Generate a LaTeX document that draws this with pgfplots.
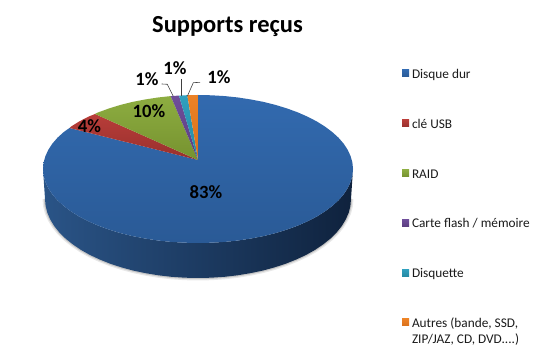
\documentclass[border=0pt]{standalone}
\usepackage{pgfplots}
\pgfplotsset{compat=1.18}
\usepackage{fontspec}
\setmainfont{Carlito}
\definecolor{txt}{HTML}{1A1A1A}
\definecolor{HTMLa}{HTML}{2A5487}
\definecolor{HTMLb}{HTML}{19355E}
\definecolor{HTMLc}{HTML}{0F223D}
\definecolor{HTMLd}{HTML}{326AAF}
\definecolor{HTMLe}{HTML}{2A5A96}
\definecolor{HTMLf}{HTML}{B83D39}
\definecolor{HTMLg}{HTML}{98302D}
\definecolor{HTMLh}{HTML}{8DAD41}
\definecolor{HTMLi}{HTML}{76922F}
\definecolor{HTMLj}{HTML}{6F4E9A}
\definecolor{HTMLk}{HTML}{5B3E80}
\definecolor{HTMLl}{HTML}{30A0BE}
\definecolor{HTMLm}{HTML}{258AA4}
\definecolor{HTMLn}{HTML}{EC8226}
\definecolor{HTMLo}{HTML}{D9701C}
\begin{document}
\begin{tikzpicture}
\begin{axis}[
  scale only axis, width=545pt, height=355pt,
  xmin=0, xmax=545, ymin=0, ymax=355,
  axis lines=none, clip=false,
  legend cell align=left,
  legend image code/.code={\path[#1,draw=none] (0pt,-1.5pt) rectangle (7pt,5.5pt);\path (0pt,0pt) -- (10pt,0pt);},
  legend style={at={(axis cs:402,285.5)},anchor=north west,draw=none,fill=none,inner sep=0pt,outer sep=0pt,
    row sep=37.8pt,font=\fontsize{13.3}{16.3}\selectfont,text=txt,
    nodes={inner sep=0pt,text height=9pt,text depth=3pt}},
]
\path (axis cs:0,0) rectangle (axis cs:545,355);
% soft shadow below the pie
\addplot[forget plot,line width=5pt,color=black!9,line join=round] coordinates {(351,156)(350.4,149.1)(348.7,142.3)(345.8,135.6)(341.8,129)(336.7,122.6)(330.5,116.5)(323.3,110.7)(315.2,105.2)(306.2,100.1)(296.3,95.5)(285.8,91.3)(274.5,87.6)(262.7,84.4)(250.3,81.8)(237.6,79.7)(224.6,78.2)(211.3,77.3)(198,77)(184.7,77.3)(171.4,78.2)(158.4,79.7)(145.7,81.8)(133.3,84.4)(121.5,87.6)(110.2,91.3)(99.7,95.5)(89.8,100.1)(80.8,105.2)(72.7,110.7)(65.5,116.5)(59.3,122.6)(54.2,129)(50.2,135.6)(47.3,142.3)(45.6,149.1)(45,156)};
\addplot[forget plot,line width=2.4pt,color=black!22,line join=round] coordinates {(351,156)(350.4,149.1)(348.7,142.3)(345.8,135.6)(341.8,129)(336.7,122.6)(330.5,116.5)(323.3,110.7)(315.2,105.2)(306.2,100.1)(296.3,95.5)(285.8,91.3)(274.5,87.6)(262.7,84.4)(250.3,81.8)(237.6,79.7)(224.6,78.2)(211.3,77.3)(198,77)(184.7,77.3)(171.4,78.2)(158.4,79.7)(145.7,81.8)(133.3,84.4)(121.5,87.6)(110.2,91.3)(99.7,95.5)(89.8,100.1)(80.8,105.2)(72.7,110.7)(65.5,116.5)(59.3,122.6)(54.2,129)(50.2,135.6)(47.3,142.3)(45.6,149.1)(45,156)};
% side wall
\addplot[forget plot,draw=none,left color=HTMLa,middle color=HTMLb,right color=HTMLc] coordinates {(353,186)(352.4,179.55)(350.6,173.15)(347.7,166.85)(343.7,160.7)(338.5,154.7)(332.2,149)(325,143.6)(316.7,138.4)(307.6,133.7)(297.6,129.3)(286.9,125.4)(275.5,121.9)(263.5,118.9)(251,116.5)(238.1,114.5)(224.9,113.1)(211.5,112.3)(198,112)(184.5,112.3)(171.1,113.1)(157.9,114.5)(145,116.5)(132.5,118.9)(120.5,121.9)(109.1,125.4)(98.4,129.3)(88.4,133.7)(79.3,138.4)(71,143.6)(63.8,149)(57.5,154.7)(52.3,160.7)(48.3,166.85)(45.4,173.15)(43.6,179.55)(43,186)
(45,156)(45.6,149.1)(47.3,142.3)(50.2,135.6)(54.2,129)(59.3,122.6)(65.5,116.5)(72.7,110.7)(80.8,105.2)(89.8,100.1)(99.7,95.5)(110.2,91.3)(121.5,87.6)(133.3,84.4)(145.7,81.8)(158.4,79.7)(171.4,78.2)(184.7,77.3)(198,77)(211.3,77.3)(224.6,78.2)(237.6,79.7)(250.3,81.8)(262.7,84.4)(274.5,87.6)(285.8,91.3)(296.3,95.5)(306.2,100.1)(315.2,105.2)(323.3,110.7)(330.5,116.5)(336.7,122.6)(341.8,129)(345.8,135.6)(348.7,142.3)(350.4,149.1)(351,156)} -- cycle;
% top face: Disque dur
\addplot[draw=none,top color=HTMLd,bottom color=HTMLe] coordinates {(198,195)(198,260)(211.5,259.7)(224.9,258.9)(238.1,257.5)(251,255.5)(263.5,253.1)(275.5,250.1)(286.9,246.6)(297.6,242.7)(307.6,238.3)(316.7,233.6)(325,228.4)(332.2,223)(338.5,217.3)(343.7,211.3)(347.7,205.15)(350.6,198.85)(352.4,192.45)(353,186)(352.4,179.55)(350.6,173.15)(347.7,166.85)(343.7,160.7)(338.5,154.7)(332.2,149)(325,143.6)(316.7,138.4)(307.6,133.7)(297.6,129.3)(286.9,125.4)(275.5,121.9)(263.5,118.9)(251,116.5)(238.1,114.5)(224.9,113.1)(211.5,112.3)(198,112)(184.5,112.3)(171.1,113.1)(157.9,114.5)(145,116.5)(132.5,118.9)(120.5,121.9)(109.1,125.4)(98.4,129.3)(88.4,133.7)(79.3,138.4)(71,143.6)(63.8,149)(57.5,154.7)(52.3,160.7)(48.3,166.85)(45.4,173.15)(43.6,179.55)(43,186)(43.6,192.45)(45.4,198.85)(48.3,205.15)(52.3,211.3)(57.5,217.3)(63.8,223)(69.5,227)} -- cycle;
\addlegendentry{Disque dur}
% cle USB
\addplot[draw=none,top color=HTMLf,bottom color=HTMLg] coordinates {(198,195)(69.5,227)(71,228.4)(79.3,233.6)(88.4,238.3)(95,241)} -- cycle;
\addlegendentry{clé USB}
% RAID
\addplot[draw=none,top color=HTMLh,bottom color=HTMLi] coordinates {(198,195)(95,241)(98.4,242.7)(109.1,246.6)(120.5,250.1)(132.5,253.1)(145,255.5)(157.9,257.5)(170.7,258.9)} -- cycle;
\addlegendentry{RAID}
% Carte flash
\addplot[draw=none,top color=HTMLj,bottom color=HTMLk] coordinates {(198,195)(170.7,258.9)(179,259.4)} -- cycle;
\addlegendentry{Carte flash / mémoire}
% Disquette
\addplot[draw=none,top color=HTMLl,bottom color=HTMLm] coordinates {(198,195)(179,259.4)(187.3,259.8)} -- cycle;
\addlegendentry{Disquette}
% Autres
\addplot[draw=none,top color=HTMLn,bottom color=HTMLo] coordinates {(198,195)(187.3,259.8)(192.6,259.95)(198,260)} -- cycle;
\addlegendentry{\parbox[t]{125pt}{Autres (bande, SSD,\\ZIP/JAZ, CD, DVD....)}}
% leader lines
\addplot[forget plot,color=black!75,line width=0.6pt] coordinates {(161.7,271)(167.3,270.7)(173.3,258.7)};
\addplot[forget plot,color=black!75,line width=0.6pt] coordinates {(181.7,276)(181.7,258.7)};
\addplot[forget plot,color=black!75,line width=0.6pt] coordinates {(200,272.7)(193.3,272.3)(187.3,258.7)};
% texts
\node[font=\fontsize{24.5}{28}\bfseries\selectfont,text=black] at (axis cs:227.5,328) {Supports reçus};
\begin{scope}[every node/.style={font=\fontsize{18.7}{22}\bfseries\selectfont,text=black,inner sep=0pt}]
\node at (axis cs:206,163) {83\%};
\node at (axis cs:89.5,229) {4\%};
\node at (axis cs:149,244) {10\%};
\node at (axis cs:147,276) {1\%};
\node at (axis cs:175,287) {1\%};
\node at (axis cs:219,278) {1\%};
\end{scope}
\end{axis}
\end{tikzpicture}
\end{document}
